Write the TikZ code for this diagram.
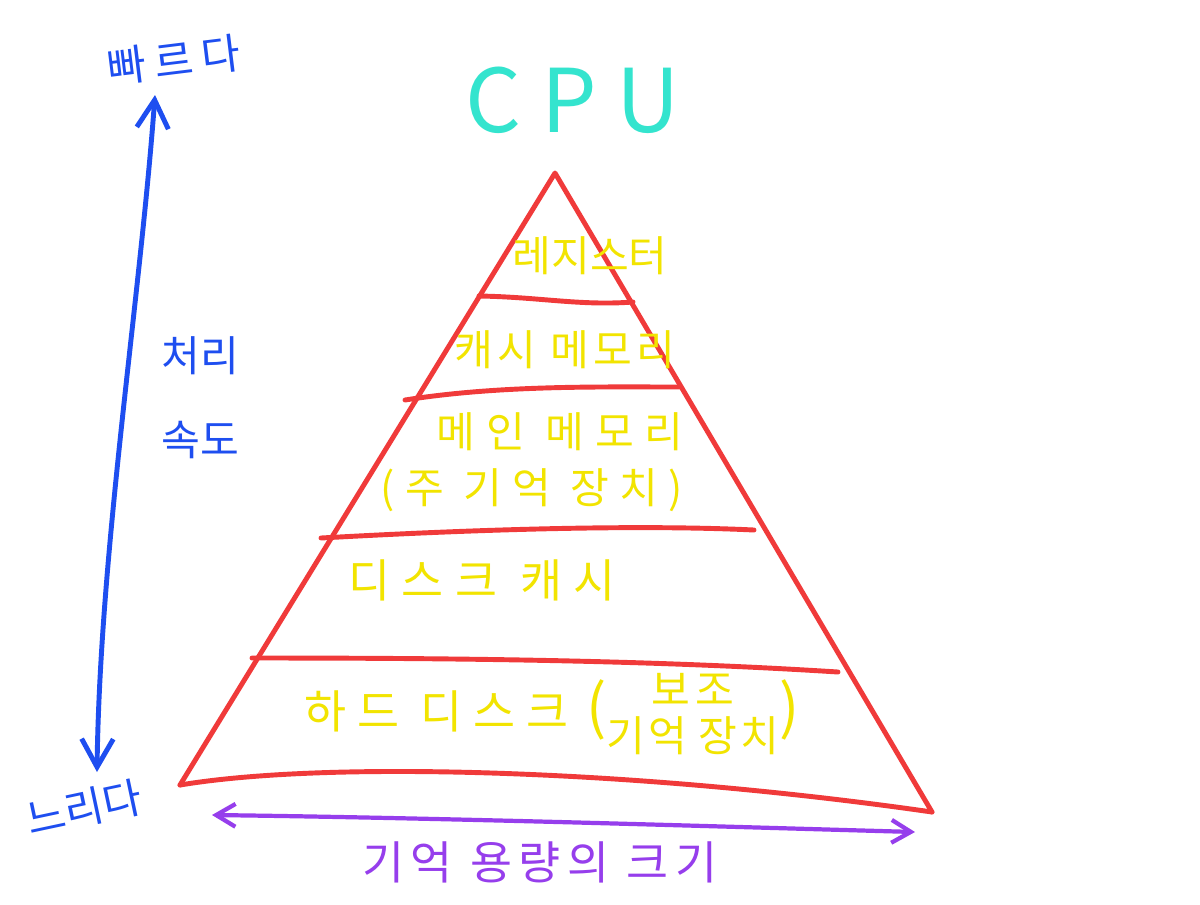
\documentclass[tikz,border=0pt]{standalone}
\usepackage{fontspec}
\setmainfont{Noto Sans CJK KR}
\usetikzlibrary{arrows.meta,calc}
\definecolor{pyr}{RGB}{240,58,58}
\definecolor{ylw}{RGB}{242,228,0}
\definecolor{blu}{RGB}{30,78,240}
\definecolor{pur}{RGB}{150,62,236}
\definecolor{cya}{RGB}{52,228,206}
\newcommand{\ls}[1]{\addfontfeature{LetterSpace=#1}}
\begin{document}
\begin{tikzpicture}[x=0.02cm,y=-0.02cm,
  redline/.style={draw=pyr,line width=2.8pt,line cap=round,line join=round},
  ytext/.style={text=ylw,font=\fontsize{24}{30}\selectfont,inner sep=0pt},
  btext/.style={text=blu,font=\fontsize{24}{30}\selectfont,inner sep=0pt},
  bline/.style={draw=blu,line width=2.8pt,line cap=round,line join=round},
  pline/.style={draw=pur,line width=2.4pt,line cap=round,line join=round}]
\useasboundingbox[fill=white] (0,0) rectangle (1200,904);
% pyramid
\coordinate (apex) at (555,173);
\coordinate (bl) at (180,785);
\coordinate (br) at (932,812);
\draw[redline] (bl) -- (apex) -- (br);
\draw[redline] (bl) .. controls (330,760) and (640,770) .. (br);
\coordinate (l1a) at (479,296); \coordinate (l1b) at (633,302);
\coordinate (l2a) at (405,400); \coordinate (l2b) at (679,387);
\coordinate (l3a) at (321,538); \coordinate (l3b) at (754,530);
\coordinate (l4a) at (252,658); \coordinate (l4b) at (838,672);
\draw[redline] (l1a) .. controls (540,297) and (580,306) .. (l1b);
\draw[redline] (l2a) .. controls (500,385) and (600,387) .. (l2b);
\draw[redline] (l3a) .. controls (500,528) and (650,525) .. (l3b);
\draw[redline] (l4a) .. controls (450,658) and (650,660) .. (l4b);
% labels inside pyramid
\node[ytext] (reg) at (590,256) {레지스터};
\node[ytext] (cache) at (565,350) {\ls{10}캐시 메모리};
\node[ytext] (main1) at (560,432) {\ls{26}메인 메모리};
\node[ytext] (main2) at (532,490) {\ls{24}(주 기억 장치)};
\node[ytext,font=\fontsize{26}{30}\selectfont] (dcache) at (482,580) {\ls{26}디스크 캐시};
\node[ytext] (hdd) at (552,718) {{\fontsize{26}{30}\selectfont\ls{24}하드 디스크}\hspace{10pt}\fontsize{34}{34}\selectfont(\fontsize{24}{30}\selectfont\begin{tabular}{@{}c@{}}\ls{12}보조\\[-4pt]\ls{6}기억 장치\end{tabular}\fontsize{34}{34}\selectfont)};
% CPU
\node[text=cya,font=\fontsize{50}{60}\selectfont,inner sep=0pt] (cpu) at (573,100) {C P U};
% speed axis
\coordinate (fastend) at (155,95);
\coordinate (slowend) at (97,772);
\draw[bline,{Straight Barb[length=16pt,width=18pt]}-{Straight Barb[length=16pt,width=18pt]}] (fastend) .. controls (140,300) and (100,550) .. (slowend);
\node[btext,rotate=7] (fast) at (174,60) {\ls{20}빠르다};
\node[btext,rotate=12] (slow) at (84,808) {느리다};
\node[btext] (speed1) at (200,356) {처리};
\node[btext] (speed2) at (200,440) {속도};
% capacity axis
\coordinate (capl) at (212,815);
\coordinate (capr) at (915,832);
\draw[pline,{Straight Barb[length=11pt,width=13pt]}-{Straight Barb[length=11pt,width=13pt]}] (capl) .. controls (450,818) and (700,826) .. (capr);
\node[text=pur,font=\fontsize{26}{30}\selectfont,inner sep=0pt] (cap) at (540,862) {\ls{15}기억 용량의 크기};
\end{tikzpicture}
\end{document}
